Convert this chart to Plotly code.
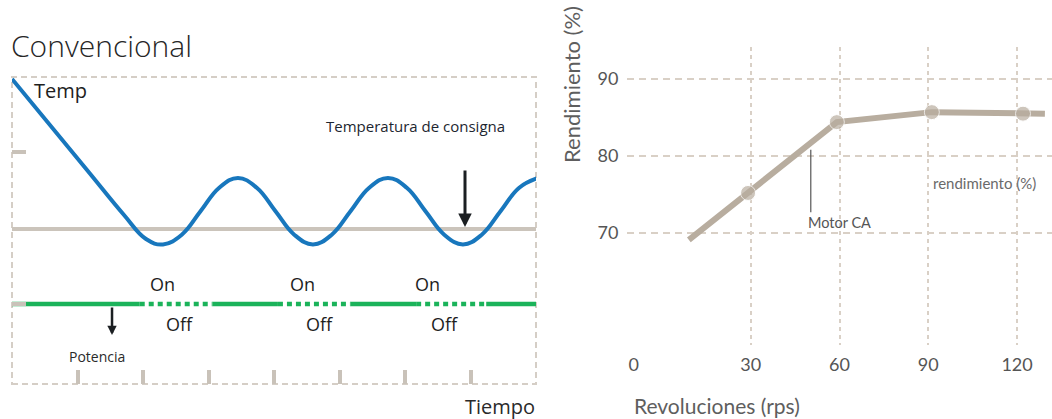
import plotly.graph_objects as go

# ---------------- Left panel data (schematic "Convencional") ----------------
temp_time = [0, 1.145, 1.71, 2.046, 2.305, 2.592, 2.878, 3.164, 3.45, 3.737, 4.023,
             4.309, 4.595, 4.882, 5.168, 5.454, 5.74, 6.027, 6.313, 6.599, 6.885,
             7.172, 7.458, 7.744, 8.031]
temp_value = [30.0, 23.93, 20.93, 19.33, 18.97, 19.62, 21.18, 22.75, 23.4, 22.75, 21.18,
              19.62, 18.97, 19.62, 21.18, 22.75, 23.4, 22.75, 21.18, 19.62, 18.97,
              19.62, 21.18, 22.75, 23.4]
setpoint = 20
power_level = 15
off_start = [1.95, 4.06, 6.17]
off_end = [3.06, 5.17, 7.24]
on_label_time = [2.29, 4.44, 6.35]
off_label_time = [2.55, 4.70, 6.61]
time_range = [0, 8]
time_ticks = [1, 2, 3, 4, 5, 6, 7]
temp_range = [9.67, 30.13]
temp_ticks = [15, 25.1]

# ---------------- Right panel data (Rendimiento) ----------------
rps = [9.1, 29.1, 59.1, 91.2, 122.0, 129.4]
rendimiento = [69.1, 75.2, 84.4, 85.7, 85.5, 85.5]
has_marker = [False, True, True, True, True, False]
rps_grid = [30, 60, 90, 120]
rps_label_pos = [-9.5, 30, 60, 90, 120]
rps_label_text = ["0", "30", "60", "90", "120"]
rend_ticks = [70, 80, 90]
rps_range = [-11.8, 131.8]
rend_range = [55.45, 94.16]

W, H = 1052, 419
LF = "Open Sans"
RF = "Lato"
BLUE = "#1877bd"
GREEN = "#1bb35a"
SETGRAY = "#cbc4bb"
BOXGRAY = "#d5cec6"
TAN = "#b8ad9f"
GRID = "#d9d0c6"

fig = go.Figure()

# setpoint line
fig.add_trace(go.Scatter(x=time_range, y=[setpoint, setpoint], mode="lines",
                         line=dict(color=SETGRAY, width=4), hoverinfo="skip",
                         xaxis="x", yaxis="y"))

# power line: solid (on) and dashed (off) parts
solid_x, solid_y, dash_x, dash_y = [], [], [], []
prev = time_range[0]
for s, e in zip(off_start, off_end):
    solid_x += [prev, s, None]
    solid_y += [power_level, power_level, None]
    dash_x += [s, e, None]
    dash_y += [power_level, power_level, None]
    prev = e
solid_x += [prev, time_range[1]]
solid_y += [power_level, power_level]
fig.add_trace(go.Scatter(x=solid_x, y=solid_y, mode="lines",
                         line=dict(color=GREEN, width=4.5), hoverinfo="skip",
                         xaxis="x", yaxis="y"))
fig.add_trace(go.Scatter(x=dash_x, y=dash_y, mode="lines",
                         line=dict(color=GREEN, width=4.5, dash="5px,4px"),
                         hoverinfo="skip", xaxis="x", yaxis="y"))

# temperature curve
fig.add_trace(go.Scatter(x=temp_time, y=temp_value, mode="lines",
                         line=dict(color=BLUE, width=4, shape="spline", smoothing=1.2),
                         hoverinfo="skip", xaxis="x", yaxis="y"))

# right panel line with markers
fig.add_trace(go.Scatter(x=rps, y=rendimiento, mode="lines+markers",
                         line=dict(color=TAN, width=6),
                         marker=dict(color=TAN, size=[15 if m else 0 for m in has_marker]),
                         hoverinfo="skip", xaxis="x2", yaxis="y2"))
# empty trace to carry the tick-label axis
fig.add_trace(go.Scatter(x=[], y=[], mode="markers", hoverinfo="skip",
                         xaxis="x3", yaxis="y2"))

annotations = []
def txt(text, x, y, size, color="#222222", family=LF, xanchor="center",
        xref="x", yref="y", textangle=0, weight="normal"):
    annotations.append(dict(text=text, x=x, y=y, xref=xref, yref=yref, showarrow=False,
                            font=dict(family=family, size=size, color=color, weight=weight),
                            xanchor=xanchor, yanchor="middle", textangle=textangle))

txt("Convencional", 9 / W, (H - 46) / H, 30, color="#262626", xanchor="left",
    xref="paper", yref="paper", weight=300)
txt("Temp", 0.30, 29.2, 20, color="#1e1e1e", xanchor="left")
txt("Temperatura de consigna", 6.153, 26.87, 15, color="#1d2630")
for t in on_label_time:
    txt("On", t, 16.33, 18, color="#1e1e1e")
for t in off_label_time:
    txt("Off", t, 13.67, 18, color="#1e1e1e")
txt("Potencia", 1.298, 11.53, 14, color="#2a2a2a")
txt("Tiempo", 500 / W, (H - 406) / H, 20, color="#2a2a2a", xref="paper", yref="paper")

# arrows
annotations.append(dict(x=6.916, y=20.13, ax=6.916, ay=24.0, xref="x", yref="y",
                        axref="x", ayref="y", text="", showarrow=True, arrowhead=2,
                        arrowwidth=3, arrowsize=0.9, arrowcolor="#1b1f22"))
annotations.append(dict(x=1.527, y=12.93, ax=1.527, ay=14.87, xref="x", yref="y",
                        axref="x", ayref="y", text="", showarrow=True, arrowhead=2,
                        arrowwidth=2.5, arrowsize=0.75, arrowcolor="#1b1f22"))

# right panel texts
txt("Rendimiento (%)", 571 / W, (H - 85) / H, 22, color="#5e5e5e", family=RF,
    xref="paper", yref="paper", textangle=-90)
txt("Revoluciones (rps)", 632 / W, (H - 405) / H, 21, color="#5e5e5e", family=RF,
    xanchor="left", xref="paper", yref="paper")
txt("rendimiento (%)", 91.0, 76.5, 15, color="#6a6a6a", family=RF, xanchor="left",
    xref="x2", yref="y2")
txt("Motor CA", 48.7, 71.3, 14.5, color="#555555", family=RF, xanchor="left",
    xref="x2", yref="y2")

shapes = [
    dict(type="rect", xref="x domain", yref="y domain", x0=0, x1=1, y0=0, y1=1,
         line=dict(color=BOXGRAY, width=2, dash="6px,4px"), layer="below"),
    dict(type="line", xref="x2", yref="y2", x0=50.3, x1=50.3, y0=80.8, y1=72.7,
         line=dict(color="#555555", width=1.2)),
]

fig.update_layout(
    width=W, height=H, margin=dict(l=0, r=0, t=0, b=0),
    paper_bgcolor="white", plot_bgcolor="white", showlegend=False,
    annotations=annotations, shapes=shapes,
    xaxis=dict(domain=[12 / W, 536 / W], range=time_range, anchor="y",
               showgrid=False, zeroline=False, showline=False,
               ticks="inside", tickvals=time_ticks, ticklen=14, tickwidth=4,
               tickcolor="#c9c2b9", showticklabels=False, fixedrange=True),
    yaxis=dict(domain=[35 / H, 342 / H], range=temp_range, anchor="x",
               showgrid=False, zeroline=False, showline=False,
               ticks="inside", tickvals=temp_ticks, ticklen=14, tickwidth=4,
               tickcolor="#c9c2b9", showticklabels=False, fixedrange=True),
    xaxis2=dict(domain=[627 / W, 1.0], range=rps_range, anchor="y2",
                showgrid=True, gridcolor=GRID, gridwidth=1.5, griddash="4px,4px",
                tickvals=rps_grid, showticklabels=False, zeroline=False,
                showline=False, ticks="", fixedrange=True),
    xaxis3=dict(overlaying="x2", range=rps_range, anchor="y2", showgrid=False,
                zeroline=False, showline=False, tickvals=rps_label_pos,
                ticktext=rps_label_text, ticks="outside", ticklen=3,
                tickcolor="rgba(0,0,0,0)",
                tickfont=dict(family=RF, size=18, color="#555555"), fixedrange=True),
    yaxis2=dict(domain=[74 / H, 372 / H], range=rend_range, anchor="x2",
                showgrid=True, gridcolor=GRID, gridwidth=1.5, griddash="7px,5px",
                tickvals=rend_ticks, zeroline=False, showline=False,
                ticks="outside", ticklen=4, tickcolor="rgba(0,0,0,0)",
                tickfont=dict(family=RF, size=18, color="#555555"), fixedrange=True),
)

fig.write_html("out.html", config={"displayModeBar": False},
               post_script="document.body.style.margin='0';document.body.style.overflow='hidden';")
